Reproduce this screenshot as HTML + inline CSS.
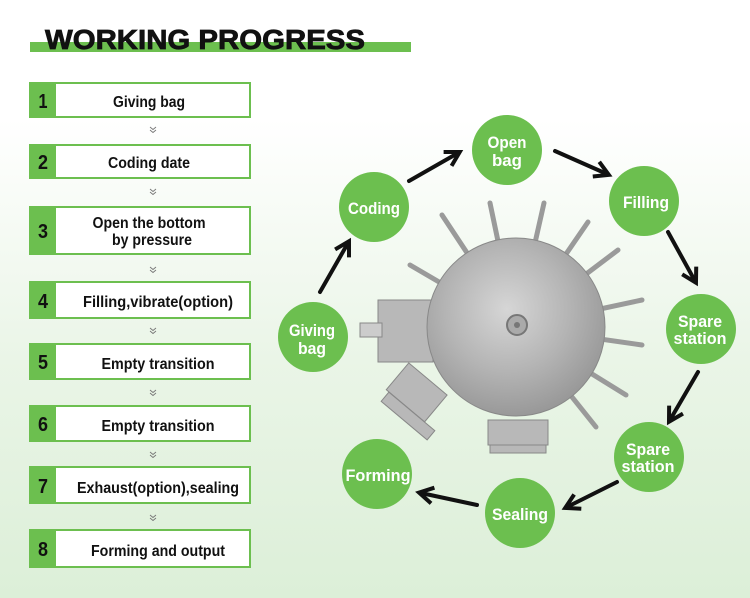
<!DOCTYPE html>
<html><head><meta charset="utf-8"><style>
html,body{margin:0;padding:0}
body{width:750px;height:598px;overflow:hidden;background:linear-gradient(#ffffff 0%,#ffffff 20%,#eaf5e7 60%,#dcefd8 100%);}
</style></head><body>
<svg width="750" height="598" xmlns="http://www.w3.org/2000/svg" style="position:absolute;left:0;top:0">
<defs>
<radialGradient id="disc" cx="0.45" cy="0.4" r="0.7">
<stop offset="0" stop-color="#d6d6d6"/><stop offset="0.5" stop-color="#b4b4b4"/><stop offset="1" stop-color="#8e8e8e"/>
</radialGradient>
<marker id="ah" viewBox="0 0 10 10" refX="7" refY="5" markerWidth="5" markerHeight="5" orient="auto">
<path d="M1,1 L8,5 L1,9" fill="none" stroke="#111" stroke-width="2"/>
</marker>
</defs>
<!-- title -->
<rect x="30" y="42" width="381" height="10" fill="#6cbf4f"/>
<text x="45" y="49" font-family="Liberation Sans, sans-serif" font-weight="bold" font-size="28" fill="#111" stroke="#111" stroke-width="0.8" textLength="320" lengthAdjust="spacingAndGlyphs">WORKING PROGRESS</text>
<g font-family="'Liberation Sans',sans-serif" font-weight="bold">
<!-- boxes -->
<g stroke="#6cbf4f" stroke-width="2" fill="#fff">
<rect x="30" y="83" width="220" height="34"/><rect x="30" y="145" width="220" height="33"/>
<rect x="30" y="207" width="220" height="47"/><rect x="30" y="282" width="220" height="36"/>
<rect x="30" y="344" width="220" height="35"/><rect x="30" y="406" width="220" height="35"/>
<rect x="30" y="467" width="220" height="36"/><rect x="30" y="530" width="220" height="37"/>
</g>
<g fill="#6cbf4f">
<rect x="29" y="82" width="27" height="36"/><rect x="29" y="144" width="27" height="35"/>
<rect x="29" y="206" width="27" height="49"/><rect x="29" y="281" width="27" height="38"/>
<rect x="29" y="343" width="27" height="37"/><rect x="29" y="405" width="27" height="37"/>
<rect x="29" y="466" width="27" height="38"/><rect x="29" y="529" width="27" height="39"/>
</g>
<g fill="#111" font-size="20" text-anchor="middle">
<text x="43" y="108" textLength="9" lengthAdjust="spacingAndGlyphs">1</text><text x="43" y="169" textLength="10" lengthAdjust="spacingAndGlyphs">2</text><text x="43" y="238" textLength="10" lengthAdjust="spacingAndGlyphs">3</text><text x="43" y="308" textLength="10" lengthAdjust="spacingAndGlyphs">4</text>
<text x="43" y="369" textLength="10" lengthAdjust="spacingAndGlyphs">5</text><text x="43" y="431" textLength="10" lengthAdjust="spacingAndGlyphs">6</text><text x="43" y="493" textLength="10" lengthAdjust="spacingAndGlyphs">7</text><text x="43" y="556" textLength="10" lengthAdjust="spacingAndGlyphs">8</text>
</g>
<g fill="#111" font-size="16" text-anchor="middle" lengthAdjust="spacingAndGlyphs">
<text x="149" y="107" textLength="72" lengthAdjust="spacingAndGlyphs">Giving bag</text>
<text x="149" y="168" textLength="82" lengthAdjust="spacingAndGlyphs">Coding date</text>
<text x="149" y="228" textLength="113" lengthAdjust="spacingAndGlyphs">Open the bottom</text>
<text x="152" y="245" textLength="80" lengthAdjust="spacingAndGlyphs">by pressure</text>
<text x="158" y="307" textLength="150" lengthAdjust="spacingAndGlyphs">Filling,vibrate(option)</text>
<text x="158" y="369" textLength="113" lengthAdjust="spacingAndGlyphs">Empty transition</text>
<text x="158" y="431" textLength="113" lengthAdjust="spacingAndGlyphs">Empty transition</text>
<text x="158" y="493" textLength="162" lengthAdjust="spacingAndGlyphs">Exhaust(option),sealing</text>
<text x="158" y="556" textLength="134" lengthAdjust="spacingAndGlyphs">Forming and output</text>
</g>
<g fill="none" stroke="#777" stroke-width="0.9">
<path d="M150,127 l3,2.5 l3,-2.5 M150,130 l3,2.5 l3,-2.5"/>
<path d="M150,189 l3,2.5 l3,-2.5 M150,192 l3,2.5 l3,-2.5"/>
<path d="M150,267 l3,2.5 l3,-2.5 M150,270 l3,2.5 l3,-2.5"/>
<path d="M150,328 l3,2.5 l3,-2.5 M150,331 l3,2.5 l3,-2.5"/>
<path d="M150,390 l3,2.5 l3,-2.5 M150,393 l3,2.5 l3,-2.5"/>
<path d="M150,452 l3,2.5 l3,-2.5 M150,455 l3,2.5 l3,-2.5"/>
<path d="M150,515 l3,2.5 l3,-2.5 M150,518 l3,2.5 l3,-2.5"/>
</g>
<!-- machine -->
<g stroke="#9a9a9a" stroke-width="5" stroke-linecap="round" fill="none">
<line x1="516" y1="327" x2="442" y2="215"/><line x1="516" y1="327" x2="490" y2="203"/>
<line x1="516" y1="327" x2="544" y2="203"/><line x1="516" y1="327" x2="588" y2="222"/>
<line x1="516" y1="327" x2="618" y2="250"/><line x1="516" y1="327" x2="642" y2="300"/>
<line x1="516" y1="327" x2="642" y2="345"/><line x1="516" y1="327" x2="626" y2="395"/>
<line x1="516" y1="327" x2="596" y2="427"/><line x1="516" y1="327" x2="410" y2="265"/>
</g>
<g fill="#b8b8b8" stroke="#888">
<rect x="378" y="300" width="55" height="62"/>
<rect x="360" y="323" width="22" height="14" fill="#ccc"/>
<rect x="392" y="375" width="50" height="35" transform="rotate(40 417 392)"/>
<rect x="378" y="410" width="60" height="12" transform="rotate(40 408 416)"/>
<rect x="488" y="420" width="60" height="25"/>
<rect x="490" y="445" width="56" height="8"/>
</g>
<circle cx="516" cy="327" r="89" fill="url(#disc)" stroke="#888"/>
<circle cx="517" cy="325" r="10" fill="#aaa" stroke="#777" stroke-width="2"/>
<circle cx="517" cy="325" r="3" fill="#777"/>
<!-- arrows -->
<g stroke="#111" stroke-width="4" fill="none" marker-end="url(#ah)" stroke-linecap="round">
<line x1="320" y1="292" x2="348" y2="243"/>
<line x1="409" y1="181" x2="458" y2="153"/>
<line x1="555" y1="151" x2="607" y2="174"/>
<line x1="668" y1="232" x2="695" y2="281"/>
<line x1="698" y1="372" x2="670" y2="420"/>
<line x1="617" y1="482" x2="567" y2="507"/>
<line x1="477" y1="505" x2="421" y2="493"/>
</g>
<!-- circles -->
<g fill="#6cbf4f">
<circle cx="507" cy="150" r="35"/><circle cx="374" cy="207" r="35"/><circle cx="644" cy="201" r="35"/>
<circle cx="701" cy="329" r="35"/><circle cx="649" cy="457" r="35"/><circle cx="520" cy="513" r="35"/>
<circle cx="377" cy="474" r="35"/><circle cx="313" cy="337" r="35"/>
</g>
<g fill="#fff" font-size="17" text-anchor="middle">
<text x="507" y="148" textLength="39" lengthAdjust="spacingAndGlyphs">Open</text><text x="507" y="166" textLength="30" lengthAdjust="spacingAndGlyphs">bag</text>
<text x="374" y="214" textLength="52" lengthAdjust="spacingAndGlyphs">Coding</text>
<text x="646" y="208" textLength="46" lengthAdjust="spacingAndGlyphs">Filling</text>
<text x="700" y="327" textLength="44" lengthAdjust="spacingAndGlyphs">Spare</text><text x="700" y="344" textLength="53" lengthAdjust="spacingAndGlyphs">station</text>
<text x="648" y="455" textLength="44" lengthAdjust="spacingAndGlyphs">Spare</text><text x="648" y="472" textLength="53" lengthAdjust="spacingAndGlyphs">station</text>
<text x="520" y="520" textLength="56" lengthAdjust="spacingAndGlyphs">Sealing</text>
<text x="378" y="481" textLength="65" lengthAdjust="spacingAndGlyphs">Forming</text>
<text x="312" y="336" textLength="46" lengthAdjust="spacingAndGlyphs">Giving</text><text x="312" y="354" textLength="28" lengthAdjust="spacingAndGlyphs">bag</text>
</g>
</g>
</svg>
</body></html>
